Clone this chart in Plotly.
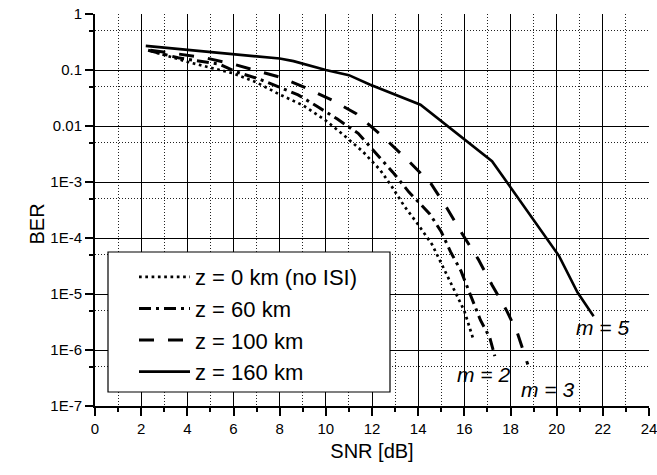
import plotly.graph_objects as go

# ---- data ----
snr_z0 = [2.4, 3.0, 4.0, 5.0, 6.0, 7.0, 8.0, 9.0, 10.0, 10.75, 11.6, 12.35, 12.85, 13.4, 13.95, 14.6, 15.1, 15.7, 16.0, 16.4]
ber_z0 = [0.22, 0.185, 0.14, 0.11, 0.087, 0.06, 0.0365, 0.0235, 0.0125, 7.0e-3, 3.5e-3, 1.65e-3, 8.4e-4, 3.7e-4, 1.85e-4, 7.7e-5, 2.9e-5, 9e-6, 5e-6, 1.5e-6]

snr_z60 = [2.3, 3.6, 5.4, 6.1, 7.07, 7.92, 8.8, 9.65, 10.5, 11.4, 12.1, 12.9, 13.6, 14.0, 14.5, 15.0, 15.4, 15.85, 16.2, 16.7, 17.1, 17.32]
ber_z60 = [0.225, 0.165, 0.127, 0.093, 0.07, 0.051, 0.036, 0.022, 0.0133, 7.4e-3, 3.55e-3, 1.5e-3, 6.6e-4, 4.5e-4, 2.7e-4, 1.29e-4, 5.7e-5, 2.6e-5, 1.1e-5, 3.4e-6, 1.67e-6, 7.8e-7]

snr_z100 = [2.4, 4.76, 6.0, 7.0, 8.05, 9.13, 10.28, 11.3, 12.45, 13.55, 14.55, 15.25, 15.9, 16.6, 17.2, 17.85, 18.3, 18.75]
ber_z100 = [0.226, 0.166, 0.127, 0.097, 0.0735, 0.048, 0.0288, 0.0168, 6.6e-3, 2.45e-3, 9.4e-4, 3.4e-4, 1.2e-4, 4.2e-5, 1.45e-5, 4.9e-6, 2e-6, 5.5e-7]

snr_z160 = [2.2, 8.0, 8.6, 10.0, 11.0, 11.9, 14.1, 17.2, 20.1, 20.9, 21.6]
ber_z160 = [0.27, 0.16, 0.144, 0.1, 0.081, 0.055, 0.024, 2.35e-3, 4.8e-5, 1.07e-5, 4.0e-6]

series_names = ["z = 0 km (no ISI)", "z = 60 km", "z = 100 km", "z = 160 km"]

x_tickvals = list(range(0, 25, 2))
y_tickvals = [1e-7, 1e-6, 1e-5, 1e-4, 1e-3, 1e-2, 1e-1, 1]
y_ticktext = ["1E-7", "1E-6", "1E-5", "1E-4", "1E-3", "0.01", "0.1", "1"]
y_minorvals = [5e-7, 5e-6, 5e-5, 5e-4, 5e-3, 5e-2, 5e-1]

m_labels = ["m = 2", "m = 3", "m = 5"]
m_label_x = [16.84, 19.62, 22.0]
m_label_logy = [-6.44, -6.71, -5.6]

FONT = "Arial, 'Liberation Sans', sans-serif"

styles = [
    dict(width=2.7, dash="2.7px,3.6px"),
    dict(width=3, dash="12px,5px,3px,5px"),
    dict(width=3, dash="15px,14px"),
    dict(width=2.6, dash="solid"),
]

fig = go.Figure()
for xs, ys, name, st in zip(
    [snr_z0, snr_z60, snr_z100, snr_z160],
    [ber_z0, ber_z60, ber_z100, ber_z160],
    series_names, styles,
):
    fig.add_trace(go.Scatter(
        x=xs, y=ys, mode="lines", name=name,
        line=dict(color="black", width=st["width"], dash=st["dash"]),
    ))

# legend frame
fig.add_shape(type="rect", xref="paper", yref="paper",
              x0=(108 - 95) / 554, x1=(390 - 95) / 554,
              y0=(406 - 392) / 392, y1=(406 - 252) / 392,
              fillcolor="white", line=dict(color="black", width=1.2), layer="above")

for t, x, y in zip(m_labels, m_label_x, m_label_logy):
    fig.add_annotation(x=x, y=y, xref="x", yref="y", text="<i>" + t + "</i>",
                       showarrow=False, font=dict(size=21, color="black", family=FONT))

fig.add_annotation(xref="paper", yref="paper", x=(23.5 - 95) / 554, y=(406 - 224) / 392,
                   text="BER", textangle=-90, showarrow=False,
                   font=dict(size=20, color="black", family=FONT))

fig.update_layout(
    width=657, height=475,
    margin=dict(l=95, r=8, t=14, b=69, autoexpand=False),
    paper_bgcolor="white", plot_bgcolor="white",
    font=dict(family=FONT, size=15, color="black"),
    showlegend=True,
    legend=dict(
        x=(134 - 95) / 554, y=(406 - 256) / 392, xanchor="left", yanchor="top",
        bgcolor="rgba(0,0,0,0)", borderwidth=0,
        font=dict(size=22, color="black", family=FONT),
        itemwidth=51,
    ),
    xaxis=dict(
        range=[0, 24], tickmode="array", tickvals=x_tickvals, automargin=False,
        showline=True, linecolor="black", linewidth=2, mirror=False,
        ticks="outside", ticklen=8, tickwidth=2, tickcolor="black",
        showgrid=True, gridcolor="black", gridwidth=1,
        zeroline=False, ticklabeloverflow="allow",
        tickfont=dict(size=15, color="black"),
        title=dict(text="SNR [dB]", font=dict(size=20, color="black"), standoff=8),
        minor=dict(dtick=1, tick0=0, ticks="outside", ticklen=4, tickwidth=1.5,
                   tickcolor="black", showgrid=True, gridcolor="#222",
                   griddash="1px,2px", gridwidth=1),
    ),
    yaxis=dict(
        type="log", range=[-7, 0], tickmode="array", automargin=False,
        tickvals=y_tickvals, ticktext=y_ticktext,
        showline=True, linecolor="black", linewidth=2, mirror=False,
        ticks="outside", ticklen=8, tickwidth=2, tickcolor="black",
        showgrid=True, gridcolor="black", gridwidth=1,
        zeroline=False, ticklabeloverflow="allow",
        tickfont=dict(size=15, color="black"),
        minor=dict(tickmode="array", tickvals=y_minorvals, ticks="outside", ticklen=4,
                   tickwidth=1.5, tickcolor="black", showgrid=True, gridcolor="#222",
                   griddash="1px,2px", gridwidth=1),
    ),
)

fig.write_html("out.html")
